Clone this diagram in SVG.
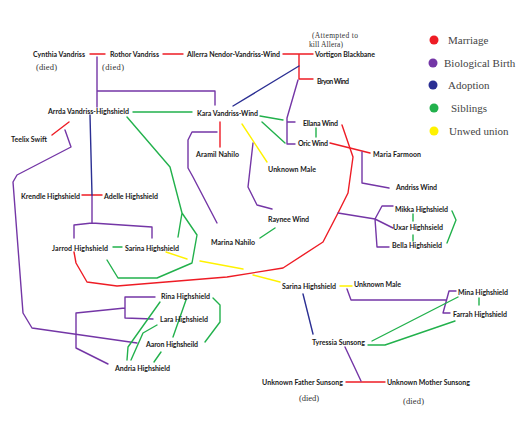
<svg xmlns="http://www.w3.org/2000/svg" width="528" height="421" viewBox="0 0 528 421">
<style>
.n{font-family:Lato,"Liberation Sans",sans-serif;font-size:7px;font-weight:bold;fill:#1a1a1a;}
.s{font-family:"Liberation Serif",serif;font-size:8.5px;fill:#333;}
.a{font-family:"Liberation Serif",serif;font-size:7.5px;fill:#333;}
.lg{font-family:"Liberation Serif",serif;font-size:11px;fill:#444;}
.c path{fill:none;stroke-width:1.4;stroke-linejoin:round;stroke-linecap:round;}
.r{stroke:#ee1c25;}
.p{stroke:#7436a6;}
.b{stroke:#2b2f93;}
.g{stroke:#22b14c;}
.y{stroke:#fff200;}
</style>
<rect width="528" height="421" fill="#fff"/>
<g id="connectors" class="c">
<path class="r" d="M90 54H105M163 54H183M283 54H313M299 55V79H313M220 122V147M69 122L52 135M82 195H102M330 143L370 153M346 382H385"/>
<path class="r" d="M342 125L353 157L348 193L338 213L323 242L283 268L227 277L117 286L87 282L76 263L74 252"/>
<path class="p" d="M97 57V107M97 91H215V105M298 80L287 118V144H295M287 122H295"/>
<path class="p" d="M217 132H192L188 140V168L193 177L217 223M253 143L248 187L257 205L272 209"/>
<path class="p" d="M65 130L71 147L17 175L13 182L23 313L32 328L137 343"/>
<path class="p" d="M92 195V223M74 238V225L92 223L152 227V238M362 152V183L389 188"/>
<path class="p" d="M338 213L375 219M393 206H382L375 219L393 228M375 219L377 247H389"/>
<path class="p" d="M155 297H125V318L153 319M125 308L76 313V348L108 364"/>
<path class="p" d="M347 289L351 300H446M456 291H449L443 313H450M345 347L361 381"/>
<path class="b" d="M299 66L233 106M90 115L92 195M303 294L313 334"/>
<path class="g" d="M133 112H192M260 116L283 120M262 122L285 143M316 128V137M113 247H122M275 228L260 238"/>
<path class="g" d="M127 117L170 167L182 213L178 237M182 213L197 235L192 263L157 278H118L107 260"/>
<path class="g" d="M413 214V221M413 235V241M452 211L456 220L447 243M479 298V305"/>
<path class="g" d="M127 360L128 347L160 302M131 360L143 333L157 325M154 362L161 352M186 300L173 337M213 298L220 305V322L205 342"/>
<path class="g" d="M372 341L458 297M368 345H385L455 321"/>
<path class="y" d="M242 124L267 162M166 252L187 259M200 261L243 269M253 275L280 282M340 286H352"/>
</g>
<g id="cynthia"><text class="n" x="33" y="56.5" textLength="52">Cynthia Vandriss</text><text class="s" x="36" y="69.5" textLength="21">(died)</text></g>
<g id="rothor"><text class="n" x="110" y="56.5" textLength="49">Rothor Vandriss</text><text class="s" x="102" y="69.5" textLength="22">(died)</text></g>
<g id="allerra"><text class="n" x="187" y="56.5" textLength="93">Allerra Nendor-Vandriss-Wind</text></g>
<g id="vortigon"><text class="n" x="315" y="56.5" textLength="60">Vortigon Blackbane</text><text class="a" x="312" y="37.5" textLength="46">(Attempted to</text><text class="a" x="309" y="46.5" textLength="34">kill Allera)</text></g>
<g id="bryon"><text class="n" x="317" y="83.5" textLength="32">Bryon Wind</text></g>
<g id="arrda"><text class="n" x="48" y="113.5" textLength="81">Arrda Vandriss-Highshield</text></g>
<g id="kara"><text class="n" x="197" y="115.5" textLength="61">Kara Vandriss-Wind</text></g>
<g id="teelix"><text class="n" x="11" y="141.5" textLength="36">Teelix Swift</text></g>
<g id="ellana"><text class="n" x="303" y="125.5" textLength="35">Ellana Wind</text></g>
<g id="oric"><text class="n" x="298" y="145.5" textLength="30">Oric Wind</text></g>
<g id="aramil"><text class="n" x="196" y="156.5" textLength="43">Aramil Nahilo</text></g>
<g id="maria"><text class="n" x="373" y="156.5" textLength="48">Maria Farmoon</text></g>
<g id="unknown-male-1"><text class="n" x="268" y="171.5" textLength="48">Unknown Male</text></g>
<g id="andriss"><text class="n" x="396" y="189.5" textLength="41">Andriss Wind</text></g>
<g id="krendle"><text class="n" x="21" y="198.5" textLength="59">Krendle Highshield</text></g>
<g id="adelle"><text class="n" x="104" y="198.5" textLength="54">Adelle Highshield</text></g>
<g id="mikka"><text class="n" x="395" y="211.5" textLength="53">Mikka Highshield</text></g>
<g id="raynee"><text class="n" x="268" y="221.5" textLength="41">Raynee Wind</text></g>
<g id="uxar"><text class="n" x="393" y="229.5" textLength="50">Uxar Highhsield</text></g>
<g id="marina"><text class="n" x="211" y="244.5" textLength="44">Marina Nahilo</text></g>
<g id="bella"><text class="n" x="392" y="247.5" textLength="50">Bella Highshield</text></g>
<g id="jarrod"><text class="n" x="52" y="250.5" textLength="56">Jarrod Highshield</text></g>
<g id="sarina-1"><text class="n" x="125" y="250.5" textLength="54">Sarina Highshield</text></g>
<g id="sarina-2"><text class="n" x="282" y="288.5" textLength="54">Sarina Highshield</text></g>
<g id="unknown-male-2"><text class="n" x="354" y="286.5" textLength="47">Unknown Male</text></g>
<g id="mina"><text class="n" x="458" y="294.5" textLength="50">Mina Highshield</text></g>
<g id="rina"><text class="n" x="161" y="298.5" textLength="49">Rina Highshield</text></g>
<g id="farrah"><text class="n" x="453" y="316.5" textLength="54">Farrah Highshield</text></g>
<g id="lara"><text class="n" x="160" y="321.5" textLength="48">Lara Highshield</text></g>
<g id="tyressia"><text class="n" x="312" y="344.5" textLength="53">Tyressia Sunsong</text></g>
<g id="aaron"><text class="n" x="146" y="346.5" textLength="52">Aaron Highsheild</text></g>
<g id="andria"><text class="n" x="115" y="370.5" textLength="55">Andria Highshield</text></g>
<g id="father-sunsong"><text class="n" x="262" y="384.5" textLength="81">Unknown Father Sunsong</text><text class="s" x="299" y="400.5" textLength="20">(died)</text></g>
<g id="mother-sunsong"><text class="n" x="387" y="384.5" textLength="83">Unknown Mother Sunsong</text><text class="s" x="403" y="403.5" textLength="21">(died)</text></g>
<g id="legend">
<circle cx="434" cy="40" r="4.5" fill="#ee1c25"/><text class="lg" x="448" y="44">Marriage</text>
<circle cx="433" cy="63" r="4.5" fill="#7436a6"/><text class="lg" x="444" y="67">Biological Birth</text>
<circle cx="433" cy="85" r="4.5" fill="#2b2f93"/><text class="lg" x="448" y="89">Adoption</text>
<circle cx="434" cy="108" r="4.5" fill="#22b14c"/><text class="lg" x="451" y="112">Siblings</text>
<circle cx="434" cy="131" r="4.5" fill="#fff200"/><text class="lg" x="449" y="135">Unwed union</text>
</g>
</svg>
